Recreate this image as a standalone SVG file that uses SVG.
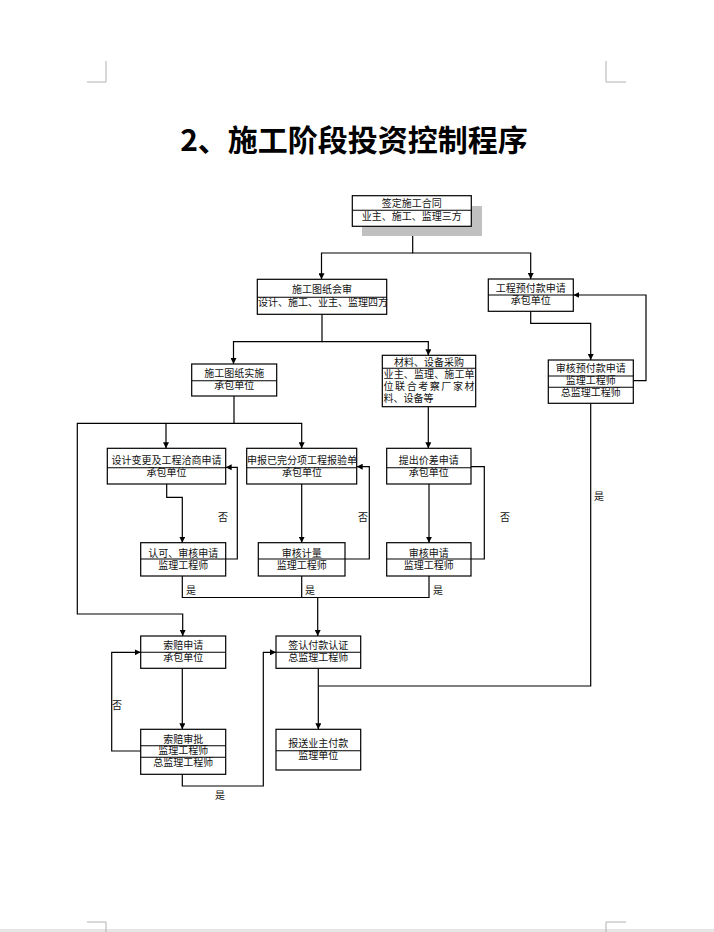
<svg xmlns="http://www.w3.org/2000/svg" width="714" height="932" viewBox="0 0 714 932">
<style>
.bg{fill:#fff}
.n{fill:#fff;stroke:#000;stroke-width:1.2}
.d{stroke:#000;stroke-width:1.1}
.c{fill:none;stroke:#000;stroke-width:1.2}
.t{font-family:"Noto Sans CJK SC","Noto Sans",sans-serif;font-size:10px;fill:#111;text-anchor:middle}
.l{font-family:"Noto Sans CJK SC","Noto Sans",sans-serif;font-size:10px;fill:#111}
.title{font-family:"Noto Sans CJK SC","Noto Sans",sans-serif;font-size:30px;font-weight:bold;fill:#000;text-anchor:middle}
.corner{fill:none;stroke:#b0b0b0;stroke-width:1}
</style>
<defs>
<marker id="arr" viewBox="0 0 6 6" refX="6" refY="3" markerWidth="6" markerHeight="6" markerUnits="userSpaceOnUse" orient="auto">
<path d="M0,0 L6,3 L0,6 z" fill="#000"/>
</marker>
</defs>
<rect class="bg" x="0" y="0" width="714" height="932"/>
<rect x="0" y="929" width="714" height="3" fill="#e6e6e6"/>
<g id="corners">
<path class="corner" d="M106,61 V82 H87"/>
<path class="corner" d="M606,61 V82 H626"/>
<path class="corner" d="M106,932 V922 H87"/>
<path class="corner" d="M606,932 V922 H626"/>
</g>
<text class="title" x="354" y="151">2、施工阶段投资控制程序</text>

<g id="connectors">
<path class="c" d="M412.7,226.3 V253 H530.7 V279" marker-end="url(#arr)"/>
<path class="c" d="M412.7,253 H321.5 V279.3" marker-end="url(#arr)"/>
<path class="c" d="M530.7,311.3 V323.3 H590.7 V360" marker-end="url(#arr)"/>
<path class="c" d="M633.3,380.7 H646 V295 H573.3" marker-end="url(#arr)"/>
<path class="c" d="M322,314.3 V341.7 H233.5 V364" marker-end="url(#arr)"/>
<path class="c" d="M322,341.7 H428.3 V355.3" marker-end="url(#arr)"/>
<path class="c" d="M428.3,406.7 V448.3" marker-end="url(#arr)"/>
<path class="c" d="M234,396 V423.3 H166 V448.3" marker-end="url(#arr)"/>
<path class="c" d="M234,423.3 H301.7 V448.3" marker-end="url(#arr)"/>
<path class="c" d="M166,423.3 H77.3 V614 H182.7 V636" marker-end="url(#arr)"/>
<path class="c" d="M166.7,484 V497.3 H182.3 V542.7" marker-end="url(#arr)"/>
<path class="c" d="M225.7,559 H237.3 V467.3 H225.7" marker-end="url(#arr)"/>
<path class="c" d="M301.7,484 V542.7" marker-end="url(#arr)"/>
<path class="c" d="M345,559 H369.3 V466.7 H356.7" marker-end="url(#arr)"/>
<path class="c" d="M429,484 V542.7" marker-end="url(#arr)"/>
<path class="c" d="M471,559 H484.3 V466.7 H471"/>
<path class="c" d="M182.3,576 V597.5 H429 V576"/>
<path class="c" d="M301.7,576 V597.5"/>
<path class="c" d="M317.7,597.5 V636" marker-end="url(#arr)"/>
<path class="c" d="M590.7,403.3 V686 H318.3"/>
<path class="c" d="M182.3,668.3 V729.3" marker-end="url(#arr)"/>
<path class="c" d="M140.7,751 H111.7 V652.3 H140.7" marker-end="url(#arr)"/>
<path class="c" d="M182.3,774.3 V786 H263.3 V652.3 H276" marker-end="url(#arr)"/>
<path class="c" d="M318.3,668.3 V729.3" marker-end="url(#arr)"/>
<text class="l" x="594" y="500">是</text>
<text class="l" x="218" y="521">否</text>
<text class="l" x="358" y="521">否</text>
<text class="l" x="500" y="521">否</text>
<text class="l" x="186" y="594">是</text>
<text class="l" x="305" y="594">是</text>
<text class="l" x="433" y="594">是</text>
<text class="l" x="112" y="709">否</text>
<text class="l" x="215" y="799">是</text>
</g>

<g id="n1">
<rect x="362" y="206" width="120" height="30" fill="#c0c0c0"/>
<rect class="n" x="352.3" y="195.7" width="119" height="30.6"/>
<line class="d" x1="352.3" y1="210.3" x2="471.3" y2="210.3"/>
<text class="t" x="411.8" y="207">签定施工合同</text>
<text class="t" x="411.8" y="220">业主、施工、监理三方</text>
</g>

<g id="n2">
<rect class="n" x="257.3" y="279.3" width="129.4" height="35"/>
<line class="d" x1="257.3" y1="297.3" x2="386.7" y2="297.3"/>
<text class="t" x="322" y="292.5">施工图纸会审</text>
<text class="t" x="323" y="305.5">设计、施工、业主、监理四方</text>
</g>

<g id="n3">
<rect class="n" x="488.3" y="279" width="85" height="32.3"/>
<line class="d" x1="488.3" y1="295" x2="573.3" y2="295"/>
<text class="t" x="530.8" y="291.5">工程预付款申请</text>
<text class="t" x="530.8" y="303.5">承包单位</text>
</g>

<g id="n4">
<rect class="n" x="548.3" y="360" width="85" height="43.3"/>
<line class="d" x1="548.3" y1="376" x2="633.3" y2="376"/>
<line class="d" x1="548.3" y1="387.3" x2="633.3" y2="387.3"/>
<text class="t" x="590.8" y="372.3">审核预付款申请</text>
<text class="t" x="590.8" y="384">监理工程师</text>
<text class="t" x="590.8" y="396">总监理工程师</text>
</g>

<g id="n5">
<rect class="n" x="191.7" y="364" width="85" height="32"/>
<line class="d" x1="191.7" y1="380.7" x2="276.7" y2="380.7"/>
<text class="t" x="234.2" y="377">施工图纸实施</text>
<text class="t" x="234.2" y="389">承包单位</text>
</g>

<g id="n6">
<rect class="n" x="382.3" y="355.3" width="93.4" height="51.4"/>
<line class="d" x1="382.3" y1="368.3" x2="475.7" y2="368.3"/>
<text class="t" x="429" y="366">材料、设备采购</text>
<text class="l" x="383.5" y="377.5" textLength="91" lengthAdjust="spacing">业主、监理、施工单</text>
<text class="l" x="383.5" y="389.5" textLength="91" lengthAdjust="spacing">位联合考察厂家材</text>
<text class="l" x="383.5" y="401.5">料、设备等</text>
</g>

<g id="n7">
<rect class="n" x="107.3" y="448.3" width="118.4" height="35.7"/>
<line class="d" x1="107.3" y1="467.7" x2="225.7" y2="467.7"/>
<text class="t" x="166.5" y="464">设计变更及工程洽商申请</text>
<text class="t" x="166.5" y="476">承包单位</text>
</g>

<g id="n8">
<rect class="n" x="140.7" y="542.7" width="85" height="33.3"/>
<line class="d" x1="140.7" y1="559" x2="225.7" y2="559"/>
<text class="t" x="183.2" y="556.5">认可、审核申请</text>
<text class="t" x="183.2" y="569">监理工程师</text>
</g>

<g id="n9">
<rect class="n" x="246.7" y="448.3" width="110" height="35.7"/>
<line class="d" x1="246.7" y1="467.7" x2="356.7" y2="467.7"/>
<text class="t" x="302" y="464">申报已完分项工程报验单</text>
<text class="t" x="302" y="476">承包单位</text>
</g>

<g id="n10">
<rect class="n" x="258.3" y="542.7" width="86.7" height="33.3"/>
<line class="d" x1="258.3" y1="559" x2="345" y2="559"/>
<text class="t" x="301.7" y="556.5">审核计量</text>
<text class="t" x="301.7" y="569">监理工程师</text>
</g>

<g id="n11">
<rect class="n" x="386.7" y="448.3" width="84.3" height="35.7"/>
<line class="d" x1="386.7" y1="467.7" x2="471" y2="467.7"/>
<text class="t" x="428.8" y="464">提出价差申请</text>
<text class="t" x="428.8" y="476">承包单位</text>
</g>

<g id="n12">
<rect class="n" x="386.7" y="542.7" width="84.3" height="33.3"/>
<line class="d" x1="386.7" y1="559" x2="471" y2="559"/>
<text class="t" x="428.8" y="556.5">审核申请</text>
<text class="t" x="428.8" y="569">监理工程师</text>
</g>

<g id="n13">
<rect class="n" x="140.7" y="636" width="85" height="32.3"/>
<line class="d" x1="140.7" y1="652.3" x2="225.7" y2="652.3"/>
<text class="t" x="183.2" y="648.5">索赔申请</text>
<text class="t" x="183.2" y="661">承包单位</text>
</g>

<g id="n14">
<rect class="n" x="140.7" y="729.3" width="85" height="45"/>
<line class="d" x1="140.7" y1="745.7" x2="225.7" y2="745.7"/>
<line class="d" x1="140.7" y1="757.3" x2="225.7" y2="757.3"/>
<text class="t" x="183.2" y="742.5">索赔审批</text>
<text class="t" x="183.2" y="754">监理工程师</text>
<text class="t" x="183.2" y="766">总监理工程师</text>
</g>

<g id="n15">
<rect class="n" x="276" y="636" width="84.7" height="32.3"/>
<line class="d" x1="276" y1="652.3" x2="360.7" y2="652.3"/>
<text class="t" x="318.3" y="648.5">签认付款认证</text>
<text class="t" x="318.3" y="661">总监理工程师</text>
</g>

<g id="n16">
<rect class="n" x="276" y="729.3" width="84.7" height="40.7"/>
<line class="d" x1="276" y1="750.7" x2="360.7" y2="750.7"/>
<text class="t" x="318.3" y="746.5">报送业主付款</text>
<text class="t" x="318.3" y="759">监理单位</text>
</g>
</svg>
